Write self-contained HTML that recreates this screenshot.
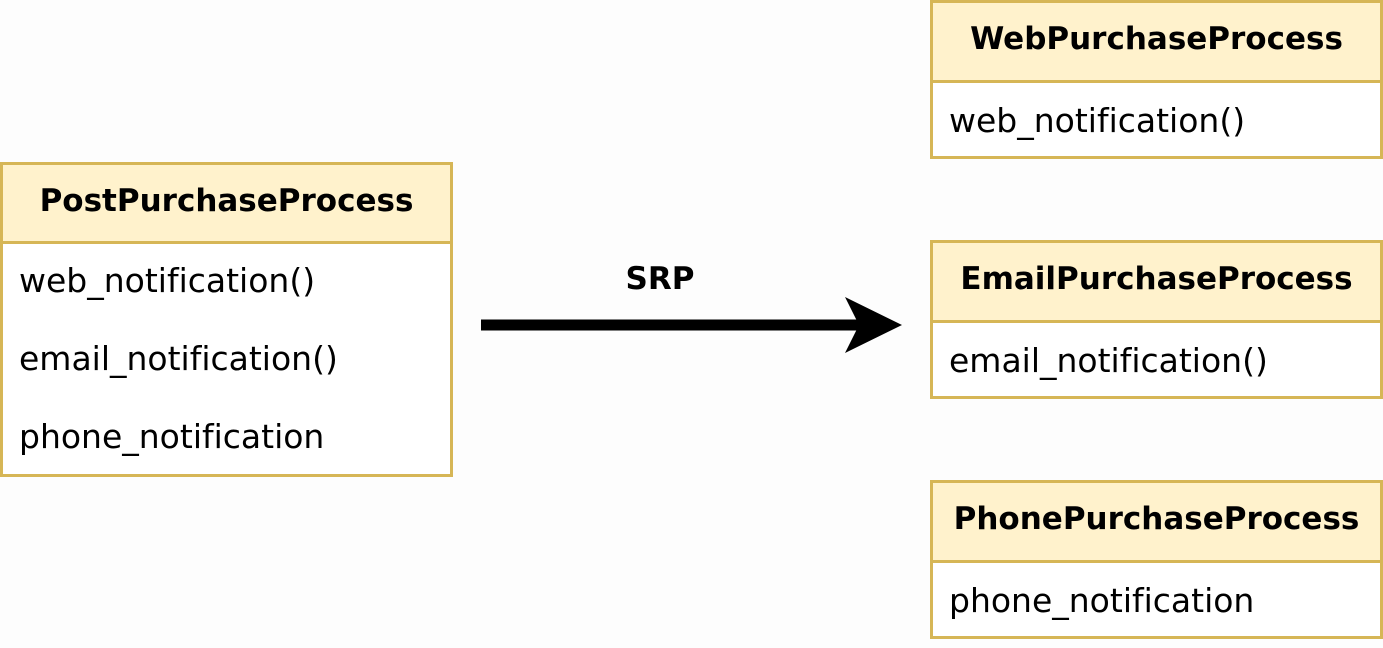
<!DOCTYPE html>
<html><head><style>
body{margin:0;width:1383px;height:648px;background:#fdfdfd;position:relative;font-family:"DejaVu Sans",sans-serif;overflow:hidden;font-variant-ligatures:none}
.box{position:absolute;border:3px solid #d6b656;background:#fff;box-sizing:border-box}
.hd{background:#fff2cc;border-bottom:3px solid #d6b656;font-weight:bold;font-size:31px;text-align:center;box-sizing:border-box;white-space:nowrap}
.it{font-size:33px;line-height:38px;padding-left:16px;position:absolute;left:0;white-space:nowrap}
</style></head><body>
<div class="box" style="left:0;top:162px;width:453px;height:315px">
<div class="hd" style="height:79px;line-height:72px">PostPurchaseProcess</div>
<div class="it" style="top:97px">web_notification()</div>
<div class="it" style="top:175px">email_notification()</div>
<div class="it" style="top:253px">phone_notification</div>
</div>
<div class="box" style="left:930px;top:0;width:453px;height:159px">
<div class="hd" style="height:80px;line-height:73px">WebPurchaseProcess</div>
<div class="it" style="top:99px">web_notification()</div>
</div>
<div class="box" style="left:930px;top:240px;width:453px;height:159px">
<div class="hd" style="height:80px;line-height:73px">EmailPurchaseProcess</div>
<div class="it" style="top:99px">email_notification()</div>
</div>
<div class="box" style="left:930px;top:480px;width:453px;height:159px">
<div class="hd" style="height:80px;line-height:73px">PhonePurchaseProcess</div>
<div class="it" style="top:99px">phone_notification</div>
</div>
<div style="position:absolute;left:600px;top:261px;width:120px;text-align:center;font-weight:bold;font-size:31px">SRP</div>
<svg style="position:absolute;left:0;top:0" width="1383" height="648">
<line x1="481" y1="325" x2="860" y2="325" stroke="#000" stroke-width="11"/>
<polygon points="902,325 845,297 859,325 845,353" fill="#000"/>
</svg>
</body></html>
